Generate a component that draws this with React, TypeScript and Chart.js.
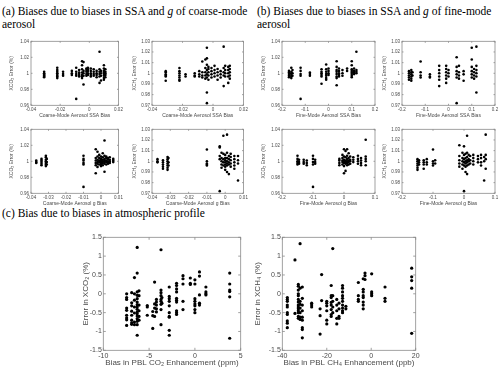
import React, { useEffect, useRef } from "react";
import { Chart, registerables } from "chart.js";
Chart.register(...registerables);

const SANS = "'Liberation Sans', Arial, 'DejaVu Sans', sans-serif";
const SERIF = "'Liberation Serif', 'Times New Roman', serif";
const TXT = "#4a4a4a";

// ---------- tick values ----------
const coarseSsaTicks = [-0.04, -0.02, 0, 0.02];
const coarseGTicks = [-0.04, -0.03, -0.02, -0.01, 0, 0.01];
const fineSsaTicks = [-0.2, -0.1, 0, 0.1, 0.2];
const fineGTicks = [-0.2, -0.1, 0, 0.1];
const co2ErrTicks = [0.96, 0.98, 1, 1.02, 1.04];
const ch4ErrTicks = [0.97, 0.98, 0.99, 1, 1.01, 1.02, 1.03];
const profErrTicks = [-1.5, -1, -0.5, 0, 0.5, 1, 1.5];
const co2BiasTicks = [-10, -5, 0, 5];
const ch4BiasTicks = [-40, -20, 0, 20];

// ---------- (a) coarse-mode SSA ----------
const a1X = [-0.031, -0.022, -0.018, -0.012, -0.009, -0.007, -0.005, -0.004, -0.002, -0.001, 0.001, 0.003, 0.005, 0.007, 0.008, 0.010, 0.011];
const a1Y = [
  [1.002, 1.000, 0.999, 0.998, 0.997, 0.996, 0.995],
  [1.007, 1.004, 1.002, 1.000, 0.999, 0.997, 0.996, 0.994],
  [1.002, 0.999, 0.997],
  [1.003, 1.000, 0.998],
  [1.007, 1.002, 0.999, 0.997, 0.968],
  [1.004, 1.001, 0.999, 0.997, 0.996],
  [1.015, 1.010, 1.005, 1.001, 0.998, 0.996, 0.994],
  [1.014, 1.003, 1.000, 0.997, 0.986],
  [1.006, 1.004, 1.002, 0.999, 0.997],
  [1.007, 1.005, 1.003, 1.000, 0.998],
  [1.006, 1.003, 1.000, 0.998, 0.996],
  [1.005, 1.002, 0.999, 0.997],
  [1.003, 1.000, 0.998, 0.995],
  [1.027, 1.005, 1.002, 0.999, 0.996, 0.988],
  [1.003, 1.000, 0.997, 0.991],
  [1.010, 1.006, 1.003, 1.001, 0.999, 0.997, 0.994, 0.992],
  [1.005, 1.002, 1.000, 0.998, 0.995],
];
const a2X = [-0.031, -0.022, -0.018, -0.012, -0.009, -0.007, -0.005, -0.004, -0.003, -0.001, 0.001, 0.003, 0.005, 0.007, 0.008, 0.010, 0.011];
const a2Y = [
  [1.002, 1.001, 0.999, 0.998, 0.997, 0.993],
  [1.005, 1.002, 1.000, 0.998, 0.996, 0.994, 0.993],
  [0.999, 0.997],
  [1.000, 0.998, 0.997],
  [1.002, 0.999, 0.997],
  [1.011, 1.001, 0.998, 0.996],
  [1.013, 1.005, 1.001, 0.998, 0.995],
  [1.024, 1.014, 1.008, 1.003, 0.999, 0.996, 0.982, 0.972],
  [1.006, 1.004, 1.001, 0.998, 0.994],
  [1.005, 1.002, 0.999, 0.996],
  [1.007, 1.003, 1.000, 0.997],
  [1.004, 1.001, 0.998, 0.994],
  [1.002, 0.999, 0.996],
  [1.025, 1.005, 1.001, 0.998, 0.988],
  [1.007, 1.003, 1.000, 0.997],
  [1.006, 1.003, 1.000, 0.997, 0.991],
  [1.007, 1.004, 1.001, 0.998, 0.995],
];

// ---------- (a) coarse-mode g ----------
const a3X = [-0.037, -0.034, -0.0315, -0.031, -0.010, -0.003, -0.002, -0.001, 0.000, 0.001, 0.002, 0.003, 0.004, 0.005, 0.007];
const a3Y = [
  [1.001, 0.999, 0.998],
  [1.003, 1.001, 0.999, 0.997, 0.995],
  [1.007, 1.005, 1.002, 1.000, 0.998, 0.996, 0.994],
  [1.003, 0.999, 0.996],
  [1.007, 1.003, 1.001, 0.998, 0.996, 0.968],
  [1.015, 1.004, 1.001, 0.998, 0.995, 0.985],
  [1.012, 1.006, 1.002, 0.999, 0.997, 0.993],
  [1.008, 1.004, 1.001, 0.999, 0.996],
  [1.006, 1.003, 1.001, 1.000, 0.998, 0.996, 0.994],
  [1.010, 1.005, 1.002, 1.000, 0.998, 0.995],
  [1.026, 1.007, 1.003, 1.001, 0.999, 0.997, 0.987],
  [1.006, 1.004, 1.001, 0.999, 0.996],
  [1.004, 1.002, 0.999, 0.997],
  [1.005, 1.002, 1.000, 0.998],
  [1.003, 1.001, 0.999],
];
const a4X = [-0.037, -0.034, -0.0315, -0.031, -0.010, -0.003, -0.002, -0.001, 0.000, 0.001, 0.002, 0.003, 0.005, 0.007];
const a4Y = [
  [1.002, 1.000, 0.999],
  [1.001, 0.999, 0.997, 0.995, 0.993],
  [1.004, 1.002, 1.000, 0.998, 0.996, 0.994, 0.992],
  [1.003, 0.999, 0.996],
  [1.011, 1.000, 0.998, 0.997, 0.996],
  [1.014, 1.013, 1.005, 1.002, 0.972],
  [1.008, 1.003, 1.000, 0.997, 0.994],
  [1.024, 1.007, 1.002, 0.999, 0.996],
  [1.006, 1.003, 1.001, 0.999, 0.997, 0.995, 0.992],
  [1.025, 1.008, 1.003, 1.000, 0.998, 0.996, 0.990],
  [1.005, 1.002, 0.999, 0.997, 0.988],
  [1.007, 1.004, 1.001, 0.998, 0.995],
  [1.005, 1.002, 0.999, 0.996, 0.993],
  [1.005, 1.001, 0.998, 0.982],
];

// ---------- (b) fine-mode SSA ----------
const b1X = [-0.17, -0.16, -0.155, -0.12, -0.08, -0.03, -0.01, 0.0, 0.035, 0.045, 0.06, 0.08, 0.10, 0.11, 0.12];
const b1Y = [
  [1.003, 1.001, 0.999, 0.997, 0.995],
  [1.007, 1.002, 1.000, 0.998, 0.996, 0.994],
  [1.004, 1.000, 0.997],
  [1.007, 1.003, 0.999, 0.997, 0.968],
  [1.001, 0.999, 0.997],
  [1.005, 1.002, 1.000, 0.998, 0.996, 0.987],
  [1.011, 1.005, 1.002, 0.999, 0.997, 0.994, 0.992],
  [1.006, 1.003, 1.000, 0.998],
  [1.015, 1.008, 1.004, 1.002, 0.999, 0.996, 0.994, 0.985],
  [1.006, 1.003, 1.000, 0.998, 0.996],
  [1.004, 1.000, 0.997],
  [1.006, 1.003],
  [1.015, 1.010, 1.005, 1.003, 1.001, 0.999, 0.997, 0.995],
  [1.006, 1.003, 1.001, 0.999],
  [1.027, 1.004, 1.002, 1.000],
];
const b2X = [-0.17, -0.16, -0.155, -0.12, -0.08, -0.04, -0.01, 0.0, 0.035, 0.045, 0.065, 0.10, 0.11, 0.12];
const b2Y = [
  [1.002, 1.000, 0.998, 0.996, 0.994],
  [1.003, 1.001, 0.999, 0.997, 0.995, 0.993],
  [1.001, 0.998],
  [1.011, 1.001, 0.998, 0.996],
  [0.999, 0.997, 0.996],
  [1.007, 1.003, 1.000, 0.997, 0.994, 0.988],
  [1.007, 1.004, 1.001, 0.998, 0.995, 0.991],
  [1.003, 1.000, 0.997],
  [1.015, 1.006, 1.002, 0.999, 0.996, 0.972],
  [1.007, 1.001, 0.998, 0.995],
  [1.002, 0.999, 0.993],
  [1.024, 1.013, 1.006, 1.002, 0.999, 0.996],
  [1.004, 1.001, 0.998, 0.995],
  [1.025, 1.007, 1.003, 1.000, 0.997, 0.982],
];

// ---------- (b) fine-mode g ----------
const b3X = [-0.15, -0.145, -0.13, -0.12, -0.1, -0.093, -0.015, -0.005, 0.0, 0.005, 0.01, 0.015, 0.02, 0.03, 0.045, 0.055, 0.07];
const b3Y = [
  [1.007, 1.003, 1.000, 0.998, 0.996],
  [1.002, 0.999, 0.997],
  [1.002, 0.999, 0.997],
  [1.001, 0.998, 0.995],
  [1.007, 1.003, 0.999, 0.996, 0.968],
  [1.002, 0.999, 0.997],
  [1.003, 1.001, 0.998, 0.995],
  [1.008, 1.004, 1.001, 0.999, 0.996],
  [1.015, 1.006, 1.002, 1.000, 0.998, 0.994, 0.985],
  [1.013, 1.005, 1.001, 0.999, 0.997, 0.988],
  [1.015, 1.007, 1.003, 1.000, 0.998, 0.995],
  [1.010, 1.004, 1.001, 0.999, 0.996],
  [1.006, 1.002, 1.000, 0.997],
  [1.005, 1.002, 0.999],
  [1.007, 1.003, 1.000, 0.997],
  [1.004, 1.001, 0.998, 0.995],
  [1.027, 1.006, 1.003, 1.000, 0.995],
];
const b4X = [-0.15, -0.145, -0.13, -0.12, -0.1, -0.093, -0.015, -0.005, 0.0, 0.005, 0.01, 0.015, 0.02, 0.03, 0.045, 0.055, 0.065, 0.07];
const b4Y = [
  [1.002, 1.000, 0.998, 0.996, 0.994, 0.992],
  [1.001, 0.999, 0.997],
  [1.001, 0.999, 0.997, 0.993],
  [1.002, 0.999, 0.997],
  [1.011, 1.000, 0.998, 0.996],
  [1.001, 0.998],
  [1.015, 1.005, 1.001, 0.998, 0.995],
  [1.008, 1.003, 1.000, 0.997, 0.993],
  [1.014, 1.006, 1.002, 0.999, 0.996, 0.972],
  [1.007, 1.003, 1.000, 0.998, 0.995, 0.990],
  [1.024, 1.008, 1.004, 1.001, 0.999, 0.996, 0.988],
  [1.006, 1.002, 1.000, 0.997],
  [1.005, 1.001, 0.998],
  [1.006, 1.003, 1.000, 0.997],
  [1.005, 1.002, 0.999],
  [1.006, 1.003, 0.999, 0.996],
  [1.004, 1.000, 0.982],
  [1.025, 1.006, 1.002, 0.993],
];

// ---------- (c) atmospheric profile ----------
const c1X = [-7.45, -6.9, -6.6, -6.3, -6.1, -5.2, -4.6, -4.4, -4.2, -3.7, -3.6, -2.8, -2.0, -1.3, -0.5, 0.0, 0.5, 1.2, 3.8];
const c1Y = [
  [0.0, -0.10, -0.15, -0.38, -0.44, -0.57, -0.64, -0.69, -0.84],
  [0.03, -0.24, -0.32, -0.46, -0.57, -0.70, -0.77, -0.81],
  [0.43, 0.0, -0.17, -0.35, -0.51, -0.75, -0.82],
  [1.23, 0.55, 0.05, -0.04, -0.13, -0.22, -0.29, -0.35, -0.41, -0.48, -0.53, -0.59, -0.66, -0.73, -0.82, -1.10],
  [0.08, -0.05, -0.30, -0.45, -0.60, -0.70],
  [-0.31, -0.35, -0.57],
  [-0.47, -0.58, -0.92],
  [0.31, -0.27, -0.38, -0.60],
  [-0.15, -0.22, -0.30, -0.40, -0.48],
  [1.17, 0.10, 0.03, -0.05, -0.15, -0.20, -0.28, -0.42, -0.82],
  [-0.10, -0.25],
  [0.18, -0.07, -0.13, -0.20, -0.32, -0.50, -0.60, -0.62, -0.97, -1.10],
  [0.28, 0.22, 0.13, 0.05, -0.12, -0.17, -0.22, -0.45, -0.50, -0.55],
  [0.48, 0.40, 0.26, -0.20, -0.42],
  [0.42, 0.28, 0.25],
  [0.37, 0.26, -0.13, -0.20, -0.27, -0.32, -0.42, -0.50],
  [0.58, 0.47, -0.03, -0.25, -0.30],
  [0.18, 0.05, 0.0, -0.03],
  [0.55, 0.26, 0.10, 0.06, -0.08, -1.18],
];
const c2X = [-37.75, -34.3, -32.8, -32, -31, -26.8, -23, -22.3, -20, -18, -17.3, -15.5, -14.5, -12.9, -11.4, -5.8, -3.6, -2.8, 0.2, 6.2, 18.2];
const c2Y = [
  [-0.10, -0.15, -0.20, -0.30, -0.35, -0.50, -0.55, -0.72, -0.78, -0.90],
  [0.90, -0.52],
  [0.25, 0.20, 0.10, 0.0, -0.05, -0.15, -0.22, -0.30, -0.35, -0.40, -0.45, -0.50, -0.60, -0.65],
  [1.33, 0.15, -0.20, -0.28, -0.38, -0.50, -0.62, -0.68],
  [0.18, -0.12, -0.30, -0.45, -0.62, -0.70, -0.90, -0.95, -1.17],
  [-0.25, -0.30, -0.35],
  [-0.40, -0.58, -1.07],
  [0.51, -0.18],
  [-0.20, -0.25, -0.32, -0.45, -0.70, -0.80],
  [0.22, -0.05, -0.10, -0.23, -0.30, -0.42, -0.55, -0.60],
  [1.20, -0.05, -0.20, -0.35, -0.50],
  [-0.15, -0.30, -0.45, -0.65, -0.80],
  [-0.25, -0.40, -0.60, -0.65],
  [0.22, 0.15, 0.05, -0.05, -0.12, -0.20, -0.30, -0.38, -0.45, -0.50],
  [-0.33, -0.40],
  [0.30, -0.05, -0.15, -0.20],
  [0.40, 0.12, 0.05, -0.05, -0.10, -0.22, -0.30, -0.40],
  [0.55, 0.48, 0.38],
  [0.53, 0.05, 0.0, -0.05],
  [0.18, -0.12, -0.20],
  [0.68, 0.45, 0.35, 0.15, -1.05],
];

function toPoints(xs: number[], ys: number[][]) {
  return xs.flatMap((x, i) => ys[i].map((y) => ({ x, y })));
}

type Spec = {
  box: [number, number, number, number];
  yTitleX: number;
  xTitleY: number;
  xTicks: number[];
  yTicks: number[];
  xLabel: string;
  yLabel: string;
  xs: number[];
  ys: number[][];
  tickFont: number;
  labelFont: number;
  tickPad: number;
  r: number;
  tl: number;
};

function geom(s: Spec) {
  const [l, t, r, b] = s.box;
  const lh = s.labelFont * 1.2;
  const cl = Math.floor(s.yTitleX - lh / 2 - 1);
  const ct = Math.floor(t - s.tickFont - 2);
  const cw = Math.ceil(r + s.tickFont * 2 + 2 - cl);
  const ch = Math.ceil(s.xTitleY + lh / 2 + 1 - ct);
  return {
    cl, ct, cw, ch, lh,
    yAxisW: l - cl,
    padTop: t - ct,
    padRight: cw - (r - cl),
    xAxisH: ch - (b - ct),
    yTitlePad: s.yTitleX - cl - lh / 2,
    xTitlePad: ch - (s.xTitleY - ct) - lh / 2,
  };
}

function Panel({ s }: { s: Spec }) {
  const ref = useRef<HTMLCanvasElement | null>(null);
  const g = geom(s);
  useEffect(() => {
    const canvas = ref.current;
    if (!canvas) return;
    const boxPlugin = {
      id: "matBox",
      afterDatasetsDraw(chart: any) {
        const { ctx, chartArea: a, scales } = chart;
        ctx.save();
        ctx.strokeStyle = "#8a8a8a";
        ctx.lineWidth = 0.8;
        ctx.strokeRect(a.left, a.top, a.right - a.left, a.bottom - a.top);
        ctx.beginPath();
        s.xTicks.forEach((v) => {
          const px = scales.x.getPixelForValue(v);
          ctx.moveTo(px, a.bottom);
          ctx.lineTo(px, a.bottom - s.tl);
          ctx.moveTo(px, a.top);
          ctx.lineTo(px, a.top + s.tl);
        });
        s.yTicks.forEach((v) => {
          const py = scales.y.getPixelForValue(v);
          ctx.moveTo(a.left, py);
          ctx.lineTo(a.left + s.tl, py);
          ctx.moveTo(a.right, py);
          ctx.lineTo(a.right - s.tl, py);
        });
        ctx.stroke();
        ctx.restore();
      },
    };
    const tickOpts = {
      font: { family: SANS, size: s.tickFont },
      color: TXT,
      padding: s.tickPad,
      autoSkip: false,
      maxRotation: 0,
      minRotation: 0,
      callback: (v: any) => String(v),
    };
    const gridOpts = { display: false, drawTicks: false, tickLength: 0 };
    const chart = new Chart(canvas, {
      type: "scatter",
      data: {
        datasets: [
          {
            data: toPoints(s.xs, s.ys),
            backgroundColor: "#000",
            borderColor: "#000",
            pointRadius: s.r,
            pointHoverRadius: s.r,
            pointBorderWidth: 0,
          },
        ],
      },
      options: {
        animation: false,
        responsive: false,
        devicePixelRatio: 1,
        events: [],
        layout: { padding: { top: g.padTop, right: g.padRight, left: 0, bottom: 0 } },
        plugins: { legend: { display: false }, tooltip: { enabled: false } },
        scales: {
          x: {
            type: "linear",
            min: s.xTicks[0],
            max: s.xTicks[s.xTicks.length - 1],
            grid: gridOpts,
            border: { display: false },
            afterBuildTicks: (sc: any) => {
              sc.ticks = s.xTicks.map((v) => ({ value: v }));
            },
            afterFit: (sc: any) => {
              sc.height = g.xAxisH;
            },
            ticks: tickOpts,
            title: {
              display: true,
              text: s.xLabel,
              color: TXT,
              font: { family: SANS, size: s.labelFont },
              padding: { top: 0, bottom: g.xTitlePad },
            },
          },
          y: {
            type: "linear",
            min: s.yTicks[0],
            max: s.yTicks[s.yTicks.length - 1],
            grid: gridOpts,
            border: { display: false },
            afterBuildTicks: (sc: any) => {
              sc.ticks = s.yTicks.map((v) => ({ value: v }));
            },
            afterFit: (sc: any) => {
              sc.width = g.yAxisW;
            },
            ticks: tickOpts,
            title: {
              display: true,
              text: s.yLabel,
              color: TXT,
              font: { family: SANS, size: s.labelFont },
              padding: { top: g.yTitlePad, bottom: 0 },
            },
          },
        },
      },
      plugins: [boxPlugin],
    } as any);
    return () => chart.destroy();
  }, []);
  return (
    <canvas
      ref={ref}
      width={g.cw}
      height={g.ch}
      style={{ position: "absolute", left: g.cl, top: g.ct, width: g.cw, height: g.ch }}
    />
  );
}

const small = { tickFont: 4.5, labelFont: 5, tickPad: 2, r: 1.3, tl: 1.5 };
const large = { tickFont: 7, labelFont: 8, tickPad: 1.5, r: 1.6, tl: 2.5 };
const row1 = { t: 41.3, b: 105.3, xt: 115.3 };
const row2 = { t: 129.3, b: 193.3, xt: 204 };

const specs: Spec[] = [
  { ...small, box: [31, row1.t, 118.5, row1.b], yTitleX: 12, xTitleY: row1.xt, xTicks: coarseSsaTicks, yTicks: co2ErrTicks, xLabel: "Coarse-Mode Aerosol SSA Bias", yLabel: "XCO\u2082 Error (%)", xs: a1X, ys: a1Y },
  { ...small, box: [152, row1.t, 243.5, row1.b], yTitleX: 135, xTitleY: row1.xt, xTicks: coarseSsaTicks, yTicks: ch4ErrTicks, xLabel: "Coarse-Mode Aerosol SSA Bias", yLabel: "XCH\u2084 Error (%)", xs: a2X, ys: a2Y },
  { ...small, box: [31, row2.t, 118.5, row2.b], yTitleX: 12, xTitleY: row2.xt, xTicks: coarseGTicks, yTicks: co2ErrTicks, xLabel: "Coarse-Mode Aerosol g Bias", yLabel: "XCO\u2082 Error (%)", xs: a3X, ys: a3Y },
  { ...small, box: [152, row2.t, 243.5, row2.b], yTitleX: 135, xTitleY: row2.xt, xTicks: coarseGTicks, yTicks: ch4ErrTicks, xLabel: "Coarse-Mode Aerosol g Bias", yLabel: "XCH\u2084 Error (%)", xs: a4X, ys: a4Y },
  { ...small, box: [282, row1.t, 375, row1.b], yTitleX: 263.5, xTitleY: row1.xt, xTicks: fineSsaTicks, yTicks: co2ErrTicks, xLabel: "Fine-Mode Aerosol SSA Bias", yLabel: "XCO\u2082 Error (%)", xs: b1X, ys: b1Y },
  { ...small, box: [402, row1.t, 495, row1.b], yTitleX: 385, xTitleY: row1.xt, xTicks: fineSsaTicks, yTicks: ch4ErrTicks, xLabel: "Fine-Mode Aerosol SSA Bias", yLabel: "XCH\u2084 Error (%)", xs: b2X, ys: b2Y },
  { ...small, box: [282, row2.t, 375, row2.b], yTitleX: 263.5, xTitleY: row2.xt, xTicks: fineGTicks, yTicks: co2ErrTicks, xLabel: "Fine-Mode Aerosol g Bias", yLabel: "XCO\u2082 Error (%)", xs: b3X, ys: b3Y },
  { ...small, box: [402, row2.t, 495, row2.b], yTitleX: 385, xTitleY: row2.xt, xTicks: fineGTicks, yTicks: ch4ErrTicks, xLabel: "Fine-Mode Aerosol g Bias", yLabel: "XCH\u2084 Error (%)", xs: b4X, ys: b4Y },
  { ...large, box: [103.3, 237.3, 240.7, 350.3], yTitleX: 85.5, xTitleY: 363, xTicks: co2BiasTicks, yTicks: profErrTicks, xLabel: "Bias in PBL CO\u2082 Enhancement (ppm)", yLabel: "Error in XCO\u2082 (%)", xs: c1X, ys: c1Y },
  { ...large, box: [282.3, 237.3, 415.7, 350.3], yTitleX: 257.7, xTitleY: 363, xTicks: ch4BiasTicks, yTicks: profErrTicks, xLabel: "Bias in PBL CH\u2084 Enhancement (ppb)", yLabel: "Error in XCH\u2084 (%)", xs: c2X, ys: c2Y },
];

const titleStyle: React.CSSProperties = {
  position: "absolute",
  fontFamily: SERIF,
  fontSize: 11.5,
  lineHeight: "12.5px",
  color: "#000",
  whiteSpace: "nowrap",
};

export default function App() {
  return (
    <div
      style={{
        position: "fixed",
        left: 0,
        top: 0,
        width: 500,
        height: 378,
        background: "#fff",
        overflow: "hidden",
      }}
    >
      <div style={{ ...titleStyle, left: 2, top: 5 }}>
        (a) Biases due to biases in SSA and <i>g</i> of coarse-mode
        <br />
        aerosol
      </div>
      <div style={{ ...titleStyle, left: 257, top: 5 }}>
        (b) Biases due to biases in SSA and <i>g</i> of fine-mode
        <br />
        aerosol
      </div>
      <div style={{ ...titleStyle, left: 2, top: 207 }}>(c) Bias due to biases in atmospheric profile</div>
      {specs.map((s, i) => (
        <Panel key={i} s={s} />
      ))}
    </div>
  );
}
